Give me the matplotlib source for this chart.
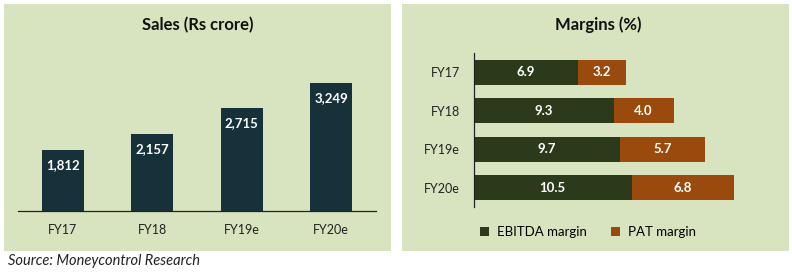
import matplotlib.pyplot as plt
from matplotlib.patches import Rectangle

plt.rcParams['font.family'] = ['Lato', 'DejaVu Sans']

# data
years = ['FY17', 'FY18', 'FY19e', 'FY20e']
sales = [1812, 2157, 2715, 3249]
ebitda = [6.9, 9.3, 9.7, 10.5]
pat = [3.2, 4.0, 5.7, 6.8]

bg = '#d8e4bf'
fig = plt.figure(figsize=(7.92, 2.72), dpi=100)

# panel backgrounds
fig.patches.append(Rectangle((4/792, 21/272), 387/792, 247/272, transform=fig.transFigure,
                             facecolor=bg, edgecolor='none', zorder=-1))
fig.patches.append(Rectangle((402/792, 21/272), 387/792, 247/272, transform=fig.transFigure,
                             facecolor=bg, edgecolor='none', zorder=-1))

# Sales chart
ax1 = fig.add_axes([18/792, 61/272, 358/792, 140/272])
ax1.set_facecolor('none')
x = range(len(years))
bars = ax1.bar(x, sales, width=0.47, color='#17313a', bottom=0)
ax1.set_ylim(500, 3500)
ax1.set_xlim(-0.5, 3.5)
for b, v in zip(bars, sales):
    ax1.annotate(f'{v:,}', (b.get_x() + b.get_width()/2, v), xytext=(0, -11),
                 textcoords='offset points', ha='center', va='center',
                 color='white', fontsize=9.5, fontweight='bold')
ax1.set_xticks(list(x))
ax1.set_xticklabels(years, fontsize=9, color='#222222')
ax1.tick_params(axis='x', length=0, pad=9)
ax1.set_yticks([])
for s in ['top', 'right', 'left']:
    ax1.spines[s].set_visible(False)
ax1.spines['bottom'].set_color('#222222')
ax1.spines['bottom'].set_linewidth(0.9)
fig.text(198/792, 1 - 25/272, 'Sales (Rs crore)', ha='center', va='center',
         fontsize=12, fontweight='bold', color='#111111')

# Margins chart
ax2 = fig.add_axes([474/792, 65/272, 300/792, 154/272])
ax2.set_facecolor('none')
y = range(len(years))
b1 = ax2.barh(y, ebitda, height=0.65, color='#2b3a1b', label='EBITDA margin')
b2 = ax2.barh(y, pat, left=ebitda, height=0.65, color='#9a4a0c', label='PAT margin')
ax2.set_xlim(0, 20)
ax2.set_ylim(3.5, -0.5)
for i in y:
    ax2.text(ebitda[i]/2, i, f'{ebitda[i]:.1f}', ha='center', va='center',
             color='white', fontsize=9.5, fontweight='bold')
    ax2.text(ebitda[i] + pat[i]/2, i, f'{pat[i]:.1f}', ha='center', va='center',
             color='white', fontsize=9.5, fontweight='bold')
ax2.set_yticks(list(y))
ax2.set_yticklabels(years, fontsize=9, color='#222222')
ax2.tick_params(axis='y', length=0, pad=10)
ax2.set_xticks([])
for s in ['top', 'right', 'bottom']:
    ax2.spines[s].set_visible(False)
ax2.spines['left'].set_color('#222222')
ax2.spines['left'].set_linewidth(0.9)
ax2.legend(loc='center', bbox_to_anchor=(588/792, 1 - 232/272), bbox_transform=fig.transFigure,
           ncol=2, frameon=False, fontsize=9.5, handlelength=0.7, handleheight=0.7,
           columnspacing=1.8, handletextpad=0.6)
fig.text(598/792, 1 - 25/272, 'Margins (%)', ha='center', va='center',
         fontsize=12, fontweight='bold', color='#111111')

fig.text(8/792, 1 - 261/272, 'Source: Moneycontrol Research', ha='left', va='center',
         fontsize=10.5, fontstyle='italic', color='#222222')

fig.savefig('out.png', dpi=100, facecolor='white')
